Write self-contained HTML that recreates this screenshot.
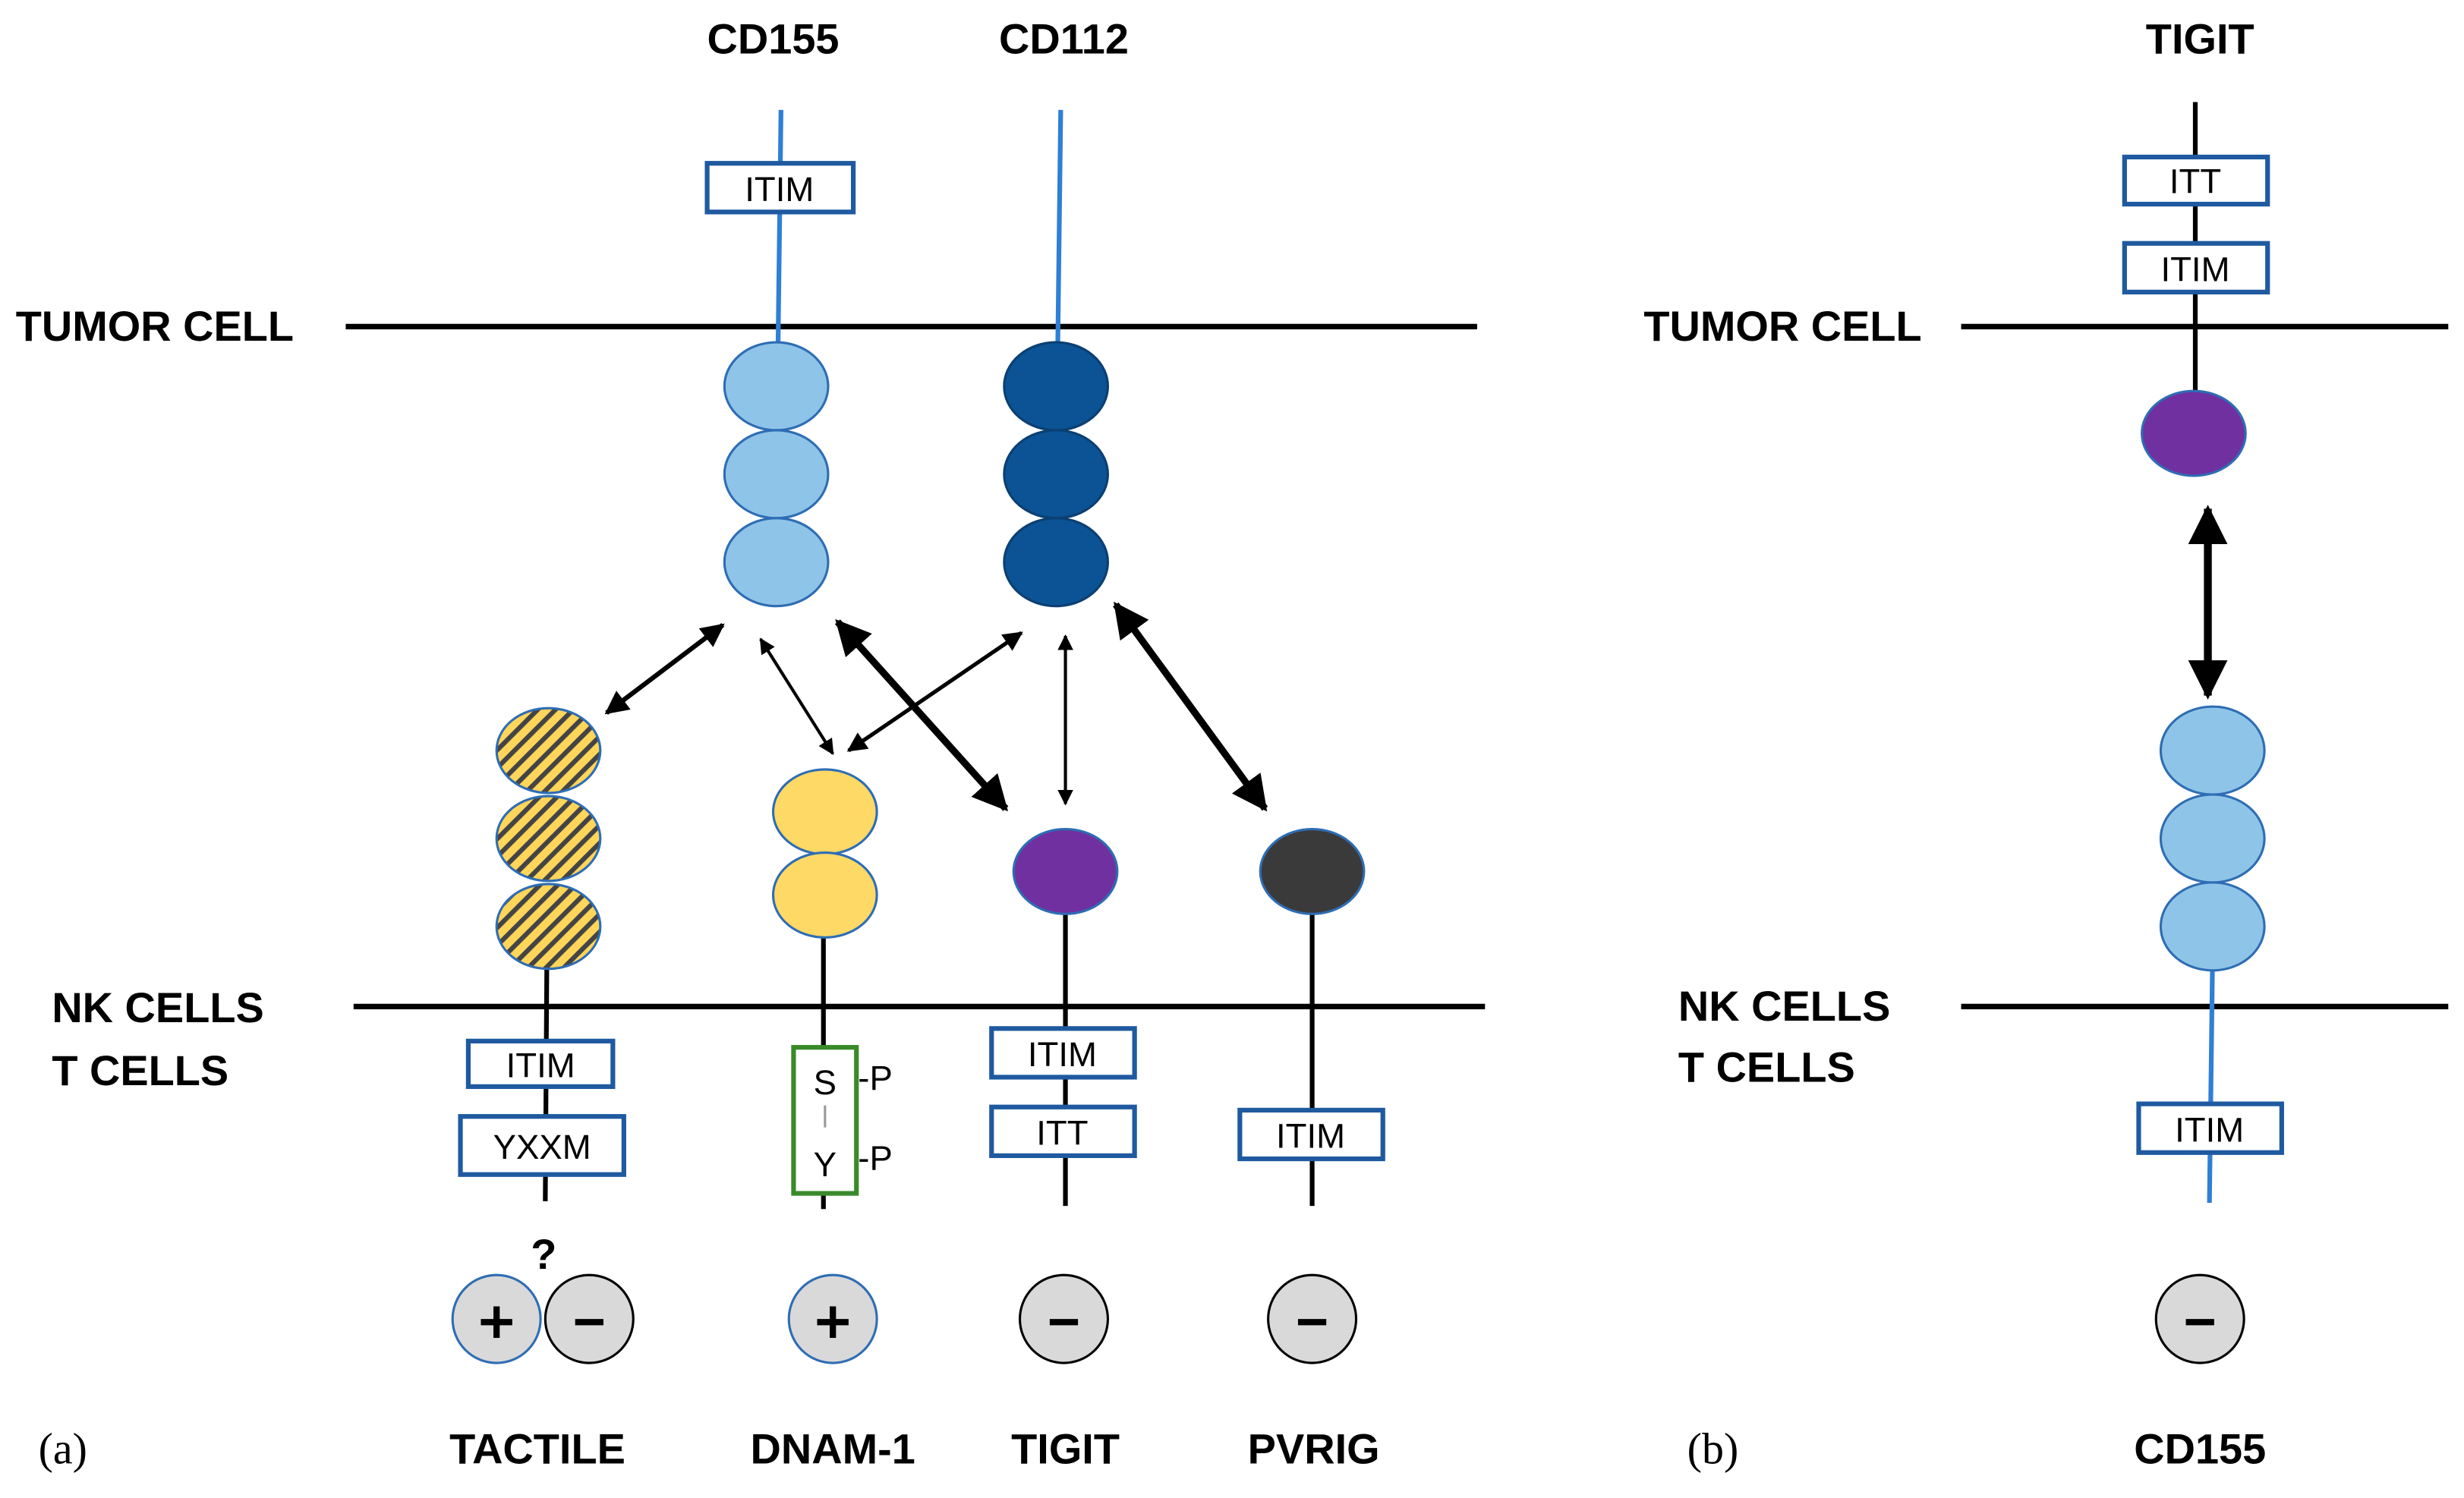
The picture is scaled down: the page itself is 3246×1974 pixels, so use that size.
<!DOCTYPE html>
<html><head><meta charset="utf-8"><style>
html,body{margin:0;padding:0;background:#fff;}
svg{display:block;}
text{font-family:"Liberation Sans",sans-serif;}
.lb{font-weight:bold;font-size:27px;}
.bx{font-size:22px;}
</style></head><body>
<svg width="3246" height="1974" viewBox="0 0 1568 954" preserveAspectRatio="none" xmlns="http://www.w3.org/2000/svg">
<defs>
<pattern id="hatch" patternUnits="userSpaceOnUse" width="8" height="8" patternTransform="rotate(-45)">
<rect width="8" height="8" fill="#FFD55A"/>
<rect width="8" height="3" fill="#444"/>
</pattern>
<marker id="ah" viewBox="0 0 10 10" refX="9" refY="5" markerWidth="5" markerHeight="5" orient="auto-start-reverse">
<path d="M0,0 L10,5 L0,10 z" fill="#000"/>
</marker>
</defs>

<text class="lb" x="492" y="34" text-anchor="middle">CD155</text>
<text class="lb" x="677" y="34" text-anchor="middle">CD112</text>
<text class="lb" x="1400" y="34" text-anchor="middle">TIGIT</text>

<text class="lb" x="10" y="217" font-size="25">TUMOR CELL</text>
<line x1="220" y1="208" x2="940" y2="208" stroke="#000" stroke-width="3.5"/>
<text class="lb" x="33" y="651" font-size="23">NK CELLS</text>
<text class="lb" x="33" y="691" font-size="23">T CELLS</text>
<line x1="225" y1="641" x2="945" y2="641" stroke="#000" stroke-width="3.5"/>

<line x1="497" y1="70" x2="495" y2="230" stroke="#2E7FD6" stroke-width="3"/>
<rect x="450" y="104" width="93" height="31" fill="#fff" stroke="#1F5AA0" stroke-width="3"/>
<text class="bx" x="496" y="128" text-anchor="middle">ITIM</text>
<g fill="#8EC4E8" stroke="#2E6DB4" stroke-width="1.5">
<ellipse cx="494" cy="246" rx="33" ry="28"/>
<ellipse cx="494" cy="302" rx="33" ry="28"/>
<ellipse cx="494" cy="358" rx="33" ry="28"/>
</g>
<line x1="675" y1="70" x2="673" y2="230" stroke="#2E7FD6" stroke-width="3"/>
<g fill="#0B5394" stroke="#0B3F73" stroke-width="1.5">
<ellipse cx="672" cy="246" rx="33" ry="28"/>
<ellipse cx="672" cy="302" rx="33" ry="28"/>
<ellipse cx="672" cy="358" rx="33" ry="28"/>
</g>

<g stroke="#000" fill="none" marker-start="url(#ah)" marker-end="url(#ah)">
<line x1="460" y1="398" x2="386" y2="454" stroke-width="3"/>
<line x1="484" y1="407" x2="530" y2="480" stroke-width="2"/>
<line x1="533" y1="396" x2="640" y2="515" stroke-width="4.5"/>
<line x1="650" y1="403" x2="540" y2="478" stroke-width="2.5"/>
<line x1="678" y1="405" x2="678" y2="512" stroke-width="2"/>
<line x1="710" y1="385" x2="805" y2="515" stroke-width="4.5"/>
<line x1="1405" y1="324" x2="1405" y2="443" stroke-width="5"/>
</g>

<line x1="348" y1="610" x2="347" y2="765" stroke="#000" stroke-width="3"/>
<g fill="url(#hatch)" stroke="#2E6DB4" stroke-width="1.5">
<ellipse cx="349" cy="478" rx="33" ry="27"/>
<ellipse cx="349" cy="534" rx="33" ry="27"/>
<ellipse cx="349" cy="590" rx="33" ry="27"/>
</g>
<rect x="298" y="663" width="92" height="29" fill="#fff" stroke="#1F5AA0" stroke-width="3"/>
<text class="bx" x="344" y="686" text-anchor="middle">ITIM</text>
<rect x="293" y="711" width="104" height="37" fill="#fff" stroke="#1F5AA0" stroke-width="3"/>
<text class="bx" x="345" y="738" text-anchor="middle">YXXM</text>
<text class="lb" x="346" y="808" text-anchor="middle" font-size="30">?</text>

<line x1="524" y1="590" x2="524" y2="770" stroke="#000" stroke-width="3"/>
<g fill="#FFD966" stroke="#2E6DB4" stroke-width="1.5">
<ellipse cx="525" cy="517" rx="33" ry="27"/>
<ellipse cx="525" cy="570" rx="33" ry="27"/>
</g>
<rect x="505" y="667" width="40" height="93" fill="#fff" stroke="#3A8A2A" stroke-width="3"/>
<text class="bx" x="525" y="697" text-anchor="middle">S</text>
<line x1="525" y1="704" x2="525" y2="718" stroke="#999" stroke-width="1.5"/>
<text class="bx" x="525" y="749" text-anchor="middle">Y</text>
<text class="bx" x="546" y="694">-P</text>
<text class="bx" x="546" y="745">-P</text>

<line x1="678" y1="580" x2="678" y2="768" stroke="#000" stroke-width="3"/>
<ellipse cx="678" cy="555" rx="33" ry="27" fill="#7030A0" stroke="#2E6DB4" stroke-width="1.5"/>
<rect x="631" y="655" width="91" height="31" fill="#fff" stroke="#1F5AA0" stroke-width="3"/>
<text class="bx" x="676" y="679" text-anchor="middle">ITIM</text>
<rect x="631" y="705" width="91" height="31" fill="#fff" stroke="#1F5AA0" stroke-width="3"/>
<text class="bx" x="676" y="729" text-anchor="middle">ITT</text>

<line x1="835" y1="580" x2="835" y2="768" stroke="#000" stroke-width="3"/>
<ellipse cx="835" cy="555" rx="33" ry="27" fill="#3A3A3A" stroke="#2E6DB4" stroke-width="1.5"/>
<rect x="789" y="707" width="91" height="31" fill="#fff" stroke="#1F5AA0" stroke-width="3"/>
<text class="bx" x="834" y="731" text-anchor="middle">ITIM</text>

<g fill="#D9D9D9" stroke-width="1.5">
<circle cx="316" cy="840" r="28" stroke="#2E6DB4"/>
<circle cx="375" cy="840" r="28" stroke="#000"/>
<circle cx="530" cy="840" r="28" stroke="#2E6DB4"/>
<circle cx="677" cy="840" r="28" stroke="#000"/>
<circle cx="835" cy="840" r="28" stroke="#000"/>
<circle cx="1400" cy="840" r="28" stroke="#000"/>
</g>
<g stroke="#000" stroke-width="4">
<line x1="306" y1="842" x2="326" y2="842"/><line x1="316" y1="832" x2="316" y2="852"/>
<line x1="520" y1="842" x2="540" y2="842"/><line x1="530" y1="832" x2="530" y2="852"/>
<line x1="366" y1="842" x2="384" y2="842"/>
<line x1="668" y1="842" x2="686" y2="842"/>
<line x1="826" y1="842" x2="844" y2="842"/>
<line x1="1391" y1="842" x2="1409" y2="842"/>
</g>

<text x="40" y="932" font-size="28" text-anchor="middle" style="font-family:'Liberation Serif',serif">(a)</text>
<text class="lb" x="342" y="932" text-anchor="middle">TACTILE</text>
<text class="lb" x="530" y="932" text-anchor="middle">DNAM-1</text>
<text class="lb" x="678" y="932" text-anchor="middle">TIGIT</text>
<text class="lb" x="836" y="932" text-anchor="middle">PVRIG</text>
<text x="1090" y="932" font-size="28" text-anchor="middle" style="font-family:'Liberation Serif',serif">(b)</text>
<text class="lb" x="1400" y="932" text-anchor="middle">CD155</text>

<text class="lb" x="1046" y="217" font-size="25">TUMOR CELL</text>
<line x1="1248" y1="208" x2="1558" y2="208" stroke="#000" stroke-width="3.5"/>
<text class="lb" x="1068" y="650" font-size="23">NK CELLS</text>
<text class="lb" x="1068" y="689" font-size="23">T CELLS</text>
<line x1="1248" y1="641" x2="1558" y2="641" stroke="#000" stroke-width="3.5"/>

<line x1="1397" y1="65" x2="1397" y2="252" stroke="#000" stroke-width="3"/>
<rect x="1352" y="100" width="91" height="30" fill="#fff" stroke="#1F5AA0" stroke-width="3"/>
<text class="bx" x="1397" y="123" text-anchor="middle">ITT</text>
<rect x="1352" y="155" width="91" height="31" fill="#fff" stroke="#1F5AA0" stroke-width="3"/>
<text class="bx" x="1397" y="179" text-anchor="middle">ITIM</text>
<ellipse cx="1396" cy="276" rx="33" ry="27" fill="#7030A0" stroke="#2E6DB4" stroke-width="1.5"/>

<line x1="1408" y1="610" x2="1406" y2="766" stroke="#2E7FD6" stroke-width="3"/>
<g fill="#8EC4E8" stroke="#2E6DB4" stroke-width="1.5">
<ellipse cx="1408" cy="478" rx="33" ry="28"/>
<ellipse cx="1408" cy="534" rx="33" ry="28"/>
<ellipse cx="1408" cy="590" rx="33" ry="28"/>
</g>
<rect x="1361" y="703" width="91" height="31" fill="#fff" stroke="#1F5AA0" stroke-width="3"/>
<text class="bx" x="1406" y="727" text-anchor="middle">ITIM</text>
</svg>
</body></html>
